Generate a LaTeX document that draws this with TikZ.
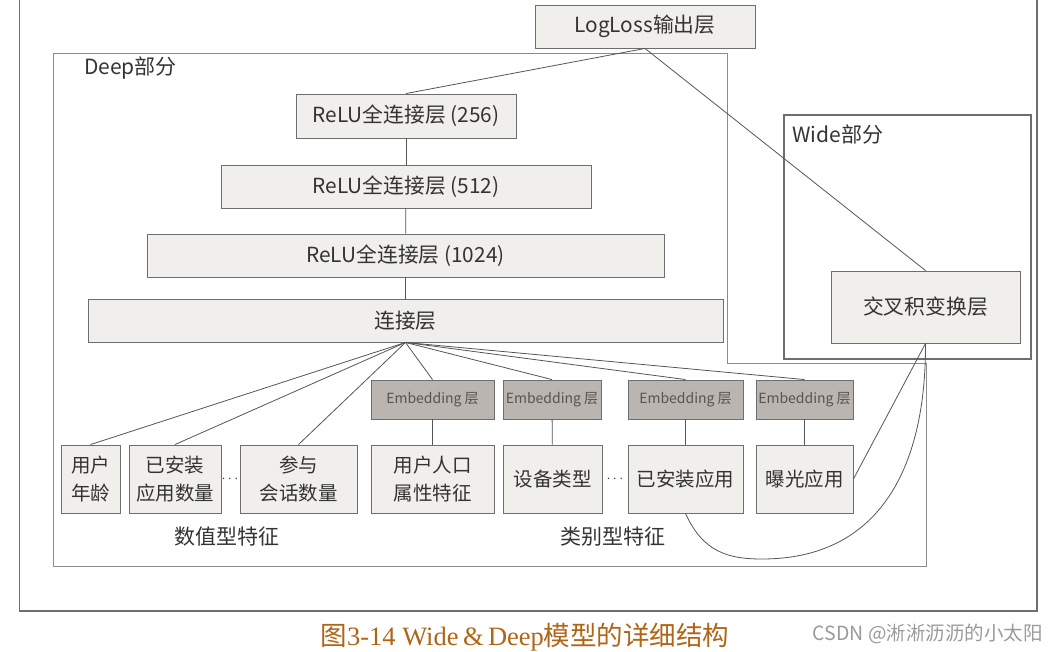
\documentclass[tikz,border=0pt]{standalone}
\usepackage{fontspec}
\newfontfamily\cjk{Noto Sans CJK SC}
\newfontfamily\capserif{Liberation Serif}
\usetikzlibrary{calc}
\definecolor{boxfill}{HTML}{F1EFEC}
\definecolor{embfill}{HTML}{BAB5B1}
\definecolor{boxline}{HTML}{6E6E6E}
\definecolor{lin}{HTML}{555555}
\definecolor{txt}{HTML}{333333}
\definecolor{embtxt}{HTML}{555555}
\definecolor{capcol}{RGB}{176,100,22}
\definecolor{wm}{HTML}{9A9A9A}
\begin{document}
\begin{tikzpicture}[x=1pt,y=-1pt,
  box/.style={draw=boxline, fill=boxfill, line width=0.9pt, inner sep=0pt, font=\cjk\fontsize{20.8}{24}\selectfont, text=txt},
  feat/.style={box, font=\cjk\fontsize{19.5}{28}\selectfont, align=center, minimum height=68pt},
  emb/.style={draw=boxline, fill=embfill, line width=0.9pt, inner sep=0pt, font=\cjk\fontsize{14}{16}\selectfont, text=embtxt, minimum height=39pt},
  conn/.style={draw=lin, line width=0.8pt},
  lbl/.style={font=\cjk\fontsize{21}{24}\selectfont, text=txt, inner sep=0pt},
  dots/.style={font=\fontsize{14}{14}\selectfont, text=txt, inner sep=0pt}]
\useasboundingbox (0,0) rectangle (1057,652);
% outer frame (top edge is outside the picture)
\draw[draw=boxline, line width=1.3pt] (19.6,-5) -- (19.6,611) -- (1037,611) -- (1037,-5);
% Deep region
\draw[draw=boxline!80, line width=0.8pt] (53,53) -- (727,53) -- (727,363) -- (926,363) -- (926,566) -- (53,566) -- cycle;
\node[lbl, anchor=west] (deeplbl) at (84,68) {Deep部分};
% Wide region
\draw[draw=boxline, line width=1.6pt] (784,115) rectangle (1031,359);
\node[lbl, anchor=west] (widelbl) at (792,135) {Wide部分};

% boxes
\node[box, minimum width=220pt, minimum height=43pt] (LL) at (645,26.5) {LogLoss输出层};
\node[box, minimum width=220pt, minimum height=44pt] (R256) at (406,116) {ReLU全连接层 (256)};
\node[box, minimum width=370pt, minimum height=43pt] (R512) at (406,186.5) {ReLU全连接层 (512)};
\node[box, minimum width=517pt, minimum height=43pt] (R1024) at (405.5,255.5) {ReLU全连接层 (1024)};
\node[box, minimum width=635pt, minimum height=43pt] (J) at (405.5,320.5) {连接层};
\node[box, minimum width=189pt, minimum height=72pt] (X) at (925.5,307) {交叉积变换层};

% embedding layers
\node[emb, minimum width=123pt] (E1) at (432.5,399.5) {Embedding 层};
\node[emb, minimum width=98pt] (E2) at (552,399.5) {Embedding 层};
\node[emb, minimum width=115pt] (E3) at (685.5,399.5) {Embedding 层};
\node[emb, minimum width=97pt] (E4) at (804.5,399.5) {Embedding 层};

% feature boxes
\node[feat, minimum width=59pt] (B1) at (90.5,479) {用户\\年龄};
\node[feat, minimum width=92pt] (B2) at (175,479) {已安装\\应用数量};
\node[feat, minimum width=117pt] (B3) at (298.5,479) {参与\\会话数量};
\node[feat, minimum width=123pt] (B4) at (432.5,479) {用户人口\\属性特征};
\node[feat, minimum width=99pt] (B5) at (552.5,479) {设备类型};
\node[feat, minimum width=115pt] (B6) at (685.5,479) {已安装应用};
\node[feat, minimum width=97pt] (B7) at (804.5,479) {曝光应用};
\node[dots] (d1) at (230,479) {$\cdots$};
\node[dots] (d2) at (615,479) {$\cdots$};

\node[lbl] (numlbl) at (227,537) {数值型特征};
\node[lbl] (catlbl) at (613,537) {类别型特征};

% connectors
\draw[conn] (LL.south) -- (R256.north);
\draw[conn] (LL.south) -- (X.north);
\draw[conn] (R256) -- (R512);
\draw[conn] (R512) -- (R1024);
\draw[conn] (R1024) -- (J);
\foreach \t in {B1,B2,B3,E1,E2,E3,E4}{\draw[conn] (J.south) -- (\t.north);}
\draw[conn] (E1) -- (B4);
\draw[conn] (E2) -- (B5);
\draw[conn] (E3) -- (B6);
\draw[conn] (E4) -- (B7);
\draw[conn] (X.south) -- (B7.east);
\draw[conn] (B6.south) .. controls (703,552) and (728,559) .. (762,559)
  .. controls (878,559) and (926,470) .. (X.south);

% caption and watermark
\node[inner sep=0pt, text=capcol, font=\fontsize{26.5}{28}\selectfont] (cap) at (525,637)
  {{\cjk 图}{\capserif 3-14 Wide\,\&\,Deep}{\cjk 模型的详细结构}};
\node[inner sep=0pt, text=wm, font=\cjk\fontsize{19.5}{20}\selectfont, anchor=east] (wmk) at (1043,634)
  {CSDN @淅淅沥沥的小太阳};
\end{tikzpicture}
\end{document}
